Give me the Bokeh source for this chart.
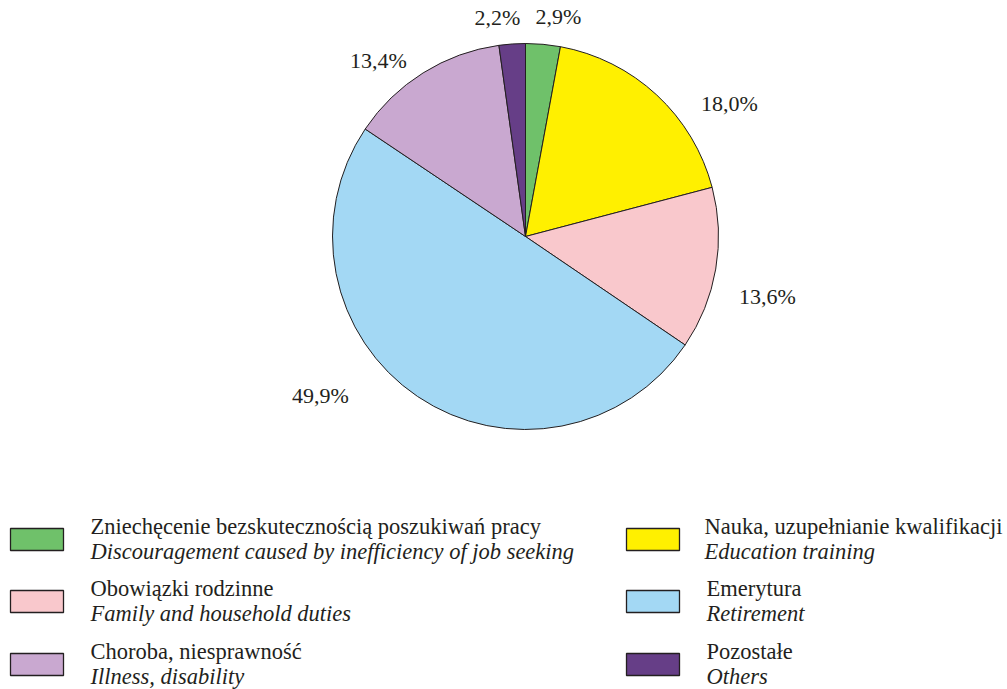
import math
from bokeh.plotting import figure
from bokeh.models import Range1d, ColumnDataSource
from bokeh.core.properties import value
from bokeh.embed import file_html
from bokeh.resources import INLINE

# ---- data ----
categories_pl = ["Zniechęcenie bezskutecznością  poszukiwań pracy", "Nauka, uzupełnianie kwalifikacji",
                 "Obowiązki rodzinne", "Emerytura", "Choroba, niesprawność", "Pozostałe"]
categories_en = ["Discouragement caused by inefficiency of job seeking", "Education training",
                 "Family and household duties", "Retirement", "Illness, disability", "Others"]
shares = [2.9, 18.0, 13.6, 49.9, 13.4, 2.2]
share_labels = ["2,9%", "18,0%", "13,6%", "49,9%", "13,4%", "2,2%"]
colors = ["#6fc16a", "#fff000", "#f9c8cc", "#a3d8f4", "#c9a8d0", "#663e87"]

# ---- layout (reference pixel coordinates, y measured downward) ----
W, H = 1007, 689
CX, CY, R = 525, 236, 193
label_pos = [(558, 16), (729, 103), (767, 296), (320, 395), (378, 60), (497, 17)]
legend_slots = [(10, 539), (626, 539), (10, 601), (626, 601), (10, 664), (626, 664)]
SW_W, SW_H = 53, 22
TEXT_DX = [80, 78, 80, 80, 80, 80]
LINE1, LINE2 = -13, 12
INK = "#231f20"
FONT = value("Liberation Serif")

p = figure(width=W, height=H, output_backend="svg", toolbar_location=None,
           x_range=Range1d(0, W), y_range=Range1d(0, H), min_border=0)
p.axis.visible = False
p.grid.visible = False
p.outline_line_color = None
p.background_fill_color = "white"

def fy(y):
    return H - y

total = sum(shares)
starts, ends = [], []
cum = 0.0
for s in shares:
    starts.append(math.pi / 2 - 2 * math.pi * cum / total)
    cum += s
    ends.append(math.pi / 2 - 2 * math.pi * cum / total)

src = ColumnDataSource(dict(start=starts, end=ends, color=colors))
p.wedge(x=CX, y=fy(CY), radius=R, start_angle="start", end_angle="end", direction="clock",
        fill_color="color", line_color=INK, line_width=1, source=src)

p.text(x=[lp[0] for lp in label_pos], y=[fy(lp[1]) for lp in label_pos], text=share_labels,
       text_font=FONT, text_font_size="22px", text_color=INK,
       text_align="center", text_baseline="middle")

# legend
sx = [s[0] + SW_W / 2 for s in legend_slots]
sy = [fy(s[1]) for s in legend_slots]
p.rect(x=sx, y=sy, width=SW_W, height=SW_H, fill_color=colors, line_color=INK, line_width=1.3)
tx = [s[0] + d for s, d in zip(legend_slots, TEXT_DX)]
p.text(x=tx, y=[fy(s[1] + LINE1) for s in legend_slots], text=categories_pl,
       text_font=FONT, text_font_size="22.5px", text_color=INK, text_baseline="middle")
p.text(x=tx, y=[fy(s[1] + LINE2) for s in legend_slots], text=categories_en,
       text_font=FONT, text_font_size="22.5px", text_font_style="italic", text_color=INK,
       text_baseline="middle")

open("out.html", "w").write(file_html(p, INLINE))
